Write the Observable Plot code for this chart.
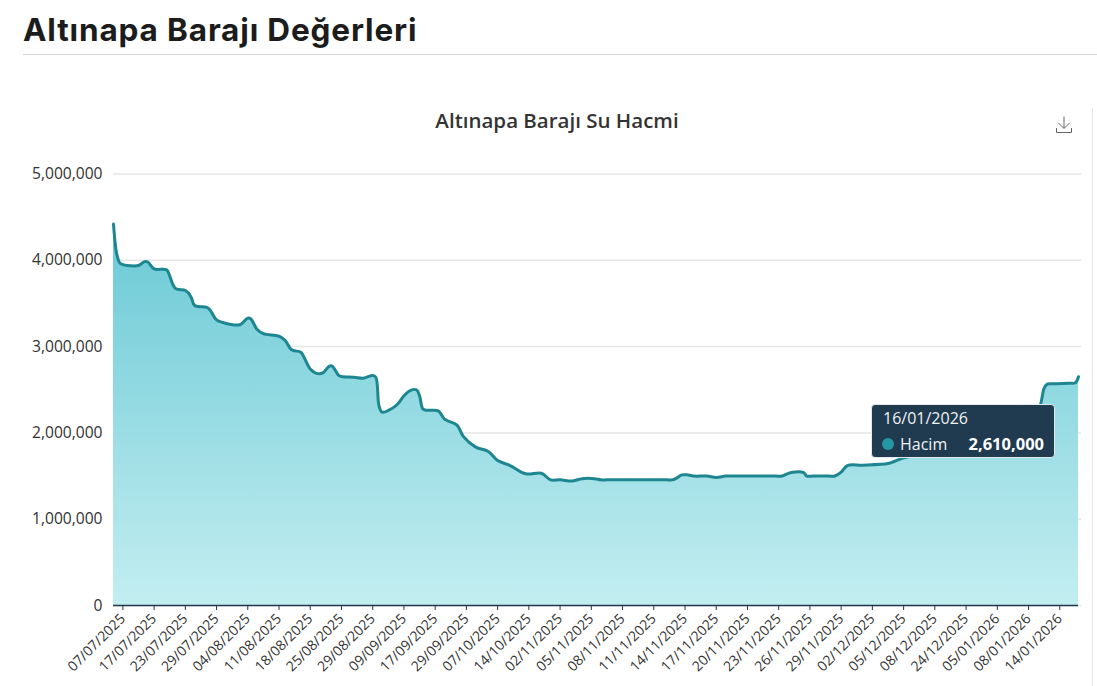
<!DOCTYPE html>
<html lang="tr">
<head>
<meta charset="utf-8">
<script src="https://cdn.jsdelivr.net/npm/d3@7"></script>
<script src="https://cdn.jsdelivr.net/npm/@observablehq/plot@0.6"></script>
<style>
html,body{margin:0;padding:0;background:#fff;width:1097px;height:686px;overflow:hidden}
#page{position:relative;width:1097px;height:686px}
h1{position:absolute;left:23px;top:10px;margin:0;font:700 31.5px/40px Inter,sans-serif;color:#1c1c1c;letter-spacing:.85px;white-space:nowrap}
#rule{position:absolute;left:23px;right:0;top:54px;height:0;border-top:1.5px solid #d4d4d4}
#edge{position:absolute;left:1092px;top:108px;height:578px;border-left:1px solid #e6e6e6}
h2{position:absolute;left:0;width:1114px;top:107px;margin:0;text-align:center;font:600 20.5px/26px "Open Sans",sans-serif;color:#333}
#icon{position:absolute;left:1055px;top:115px}
#chart{position:absolute;left:0;top:150px}
#tip{position:absolute;left:871px;top:404px;width:184px;height:54px;box-sizing:border-box;background:#203a4f;border:1px solid #e4e9ec;border-radius:4px;color:#eef3f5;font:16px/20px "Open Sans",sans-serif}
#tip .d{position:absolute;left:11px;top:3px}
#tip .k{position:absolute;left:28px;top:29px;line-height:20px}
#tip .v{position:absolute;right:10px;top:29px;line-height:20px;font-weight:700;color:#fff;font-size:16.5px}
#tip .m{position:absolute;left:10px;top:33px;width:12px;height:12px;border-radius:50%;background:#2596a3}
#chart text{fill:#333}
</style>
</head>
<body>
<div id="page">
  <h1>Altınapa Barajı Değerleri</h1>
  <div id="rule"></div>
  <div id="edge"></div>
  <h2>Altınapa Barajı Su Hacmi</h2>
  <svg id="icon" width="18" height="19" viewBox="0 0 18 19" fill="none" stroke="#666" stroke-width="1"><path d="M9 1.5V13M3.5 8 9 13.5 14.500 8M1.500 13v4.500h15V13"/></svg>
  <div id="chart"></div>
  <div id="tip"><span class="d">16/01/2026</span><span class="m"></span><span class="k">Hacim</span><span class="v">2,610,000</span></div>
</div>
<script>
const tickRecords = [3,13,23,33,43,53,63,73,83,93,103,113,123,133,143,153,163,173,183,193,203,213,223,233,243,253,263,273,283,293,303];
const tickLabels = ["07/07/2025","17/07/2025","23/07/2025","29/07/2025","04/08/2025","11/08/2025","18/08/2025","25/08/2025","29/08/2025","09/09/2025","17/09/2025","29/09/2025","07/10/2025","14/10/2025","02/11/2025","05/11/2025","08/11/2025","11/11/2025","14/11/2025","17/11/2025","20/11/2025","23/11/2025","26/11/2025","29/11/2025","02/12/2025","05/12/2025","08/12/2025","24/12/2025","05/01/2026","08/01/2026","14/01/2026"];
const records = [0,1,2,3,8,10,11,13,17,18,19,20,23,24,25,26,30,31,33,35,40,41,43,44,46,48,53,55,57,60,61,63,65,67,69,70,72,73,77,80,83,84,85,86,89,91,93,95,97,98,99,100,104,106,110,112,116,120,123,127,132,137,140,143,147,150,154,156,158,177,179,180,182,184,186,190,193,196,198,212,214,217,221,222,224,229,231,233,235,240,248,250,253,262,275,288,296,297,298,299,300,302,306,308,309];
const volumes = [4420000,4080000,3970000,3950000,3940000,3985000,3980000,3900000,3890000,3820000,3720000,3670000,3650000,3620000,3560000,3476000,3453000,3420000,3310000,3280000,3250000,3265000,3330000,3320000,3198000,3150000,3120000,3070000,2963000,2935000,2878000,2740000,2690000,2695000,2770000,2775000,2670000,2653000,2645000,2634000,2665000,2645000,2317000,2240000,2280000,2335000,2430000,2490000,2500000,2430000,2280000,2263000,2255000,2160000,2090000,1960000,1835000,1785000,1680000,1622000,1526000,1533000,1456000,1456000,1443000,1470000,1470000,1456000,1456000,1456000,1456000,1470000,1513000,1513000,1500000,1500000,1483000,1500000,1500000,1500000,1500000,1540000,1540000,1500000,1500000,1500000,1500000,1545000,1622000,1626000,1645000,1669000,1711000,1780000,1860000,1980000,2250000,2350000,2520000,2565000,2570000,2570000,2575000,2580000,2650000];
const yTicks = [0,1000000,2000000,3000000,4000000,5000000];
const series = records.map((r,i)=>({record:r,volume:volumes[i]}));

const gradient = () => {
  const defs = d3.create("svg:defs");
  const g = defs.append("linearGradient").attr("id","fillGrad").attr("x1",0).attr("y1",0).attr("x2",0).attr("y2",1);
  g.append("stop").attr("offset","0%").attr("stop-color","#62c6d3").attr("stop-opacity",0.95);
  g.append("stop").attr("offset","100%").attr("stop-color","#c0edf0").attr("stop-opacity",0.95);
  return defs.node();
};

const plot = Plot.plot({
  width:1097, height:536,
  marginLeft:113, marginRight:19, marginTop:23.5, marginBottom:81,
  style:{fontFamily:'"Open Sans",sans-serif',fontSize:"14px",background:"transparent",overflow:"visible"},
  x:{domain:[0,309],label:null},
  y:{domain:[0,5000000],label:null},
  marks:[
    gradient,
    Plot.gridY(yTicks,{stroke:"#e6e6e6",strokeWidth:1.5,strokeOpacity:1,x1:0,x2:310}),
    Plot.areaY(series,{x:"record",y:"volume",curve:"catmull-rom",fill:"url(#fillGrad)"}),
    Plot.lineY(series,{x:"record",y:"volume",curve:"catmull-rom",stroke:"#1d8690",strokeWidth:3}),
    Plot.ruleY([0],{stroke:"#1f3a46",strokeWidth:1.5}),
    Plot.axisY({ticks:yTicks,tickFormat:d3.format(","),tickSize:0,tickPadding:11,label:null,fontSize:15.6}),
    Plot.axisX({ticks:tickRecords,tickFormat:d=>tickLabels[tickRecords.indexOf(d)],tickRotate:-45,tickSize:5,tickPadding:6,label:null,fontSize:14,stroke:"#1f3a46"})
  ]
});
document.getElementById("chart").appendChild(plot);
</script>
</body>
</html>
